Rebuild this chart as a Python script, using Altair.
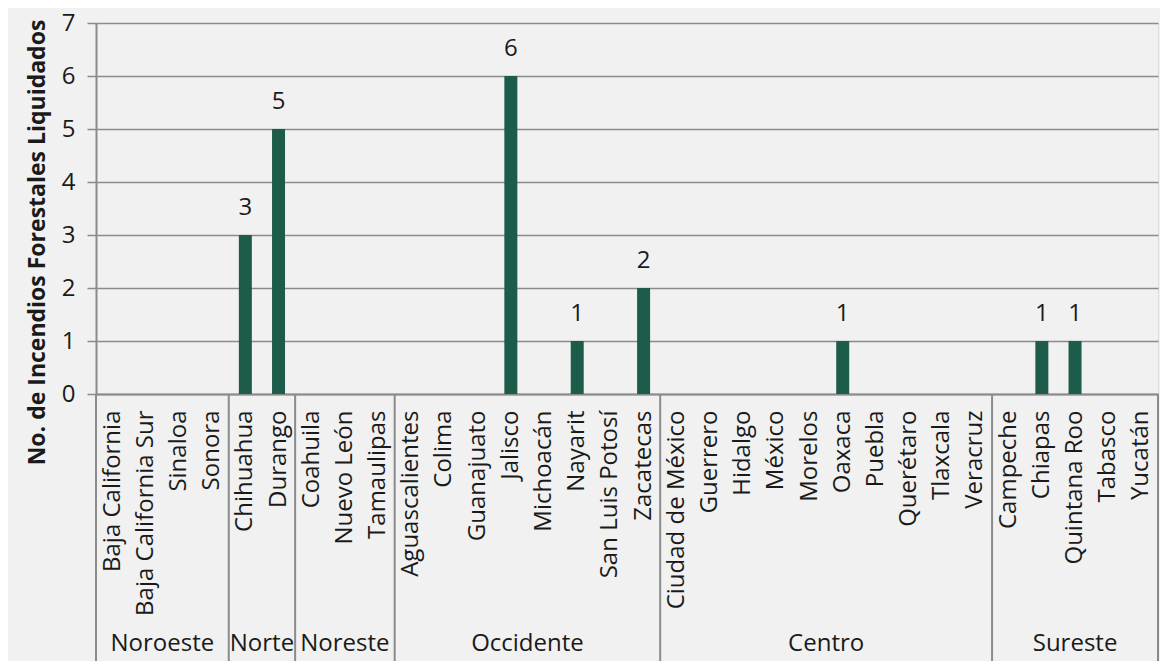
import altair as alt
import pandas as pd

states = [
    "Baja California", "Baja California Sur", "Sinaloa", "Sonora",
    "Chihuahua", "Durango",
    "Coahuila", "Nuevo León", "Tamaulipas",
    "Aguascalientes", "Colima", "Guanajuato", "Jalisco", "Michoacán", "Nayarit", "San Luis Potosí", "Zacatecas",
    "Ciudad de México", "Guerrero", "Hidalgo", "México", "Morelos", "Oaxaca", "Puebla", "Querétaro", "Tlaxcala", "Veracruz",
    "Campeche", "Chiapas", "Quintana Roo", "Tabasco", "Yucatán",
]
values = [
    0, 0, 0, 0,
    3, 5,
    0, 0, 0,
    0, 0, 0, 6, 0, 1, 0, 2,
    0, 0, 0, 0, 0, 1, 0, 0, 0, 0,
    0, 1, 1, 0, 0,
]
regions = ["Noroeste", "Norte", "Noreste", "Occidente", "Centro", "Sureste"]
region_sizes = [4, 2, 3, 8, 10, 5]
y_ticks = [0, 1, 2, 3, 4, 5, 6, 7]

W, H, PT, PB = 1062, 371, 15, 267
GREEN = "#1d5c4b"
GRID = "#8b8b8b"
TXT = "#1a1a1a"
FONT = "Open Sans"
FS = 24

df = pd.DataFrame({"estado": states, "valor": values})

starts, ends, acc = [], [], 0
for n in region_sizes:
    starts.append(acc)
    acc += n
    ends.append(acc)
rdf = pd.DataFrame({"region": regions, "inicio": starts, "fin": ends})
rdf["medio"] = (rdf["inicio"] + rdf["fin"]) / 2
bdf = pd.DataFrame({"pos": [0] + ends})

x_band = alt.Scale(domain=states, paddingInner=0, paddingOuter=0)
x_lin = alt.Scale(domain=[0, len(states)], nice=False, zero=False)

x_axis = alt.Axis(
    labelAngle=270, labelOverlap=False, labelLimit=400,
    labelFontSize=FS, labelPadding=16, labelColor=TXT, labelFont=FONT,
    ticks=False, grid=False, domainColor=GRID, domainWidth=2, title=None,
)
y_axis = alt.Axis(
    values=y_ticks, format="d", grid=True, gridColor=GRID, gridWidth=1.5,
    tickColor=GRID, tickSize=9, tickWidth=1.5, domainColor=GRID, domainWidth=2,
    labelFontSize=FS, labelPadding=12, labelColor=TXT, labelFont=FONT,
    title="No. de Incendios Forestales Liquidados", titleFontSize=23,
    titleFontWeight="bold", titleColor=TXT, titleFont=FONT,
    titleX=-52, titleY=219, titleAngle=270, titleAlign="center", titleBaseline="alphabetic",
)

bars = alt.Chart(df).mark_bar(size=13, color=GREEN).encode(
    x=alt.X("estado:N", scale=x_band, sort=states, axis=x_axis),
    y=alt.Y("valor:Q", scale=alt.Scale(domain=[0, 7], nice=False), axis=y_axis),
)

labels = alt.Chart(df).transform_filter("datum.valor > 0").mark_text(
    dy=-20, baseline="alphabetic", fontSize=FS, color=TXT, font=FONT
).encode(
    x=alt.X("estado:N", scale=x_band, sort=states),
    y=alt.Y("valor:Q"),
    text=alt.Text("valor:Q"),
)

main = alt.layer(bars, labels)

seps = alt.Chart(bdf).mark_rule(color=GRID, strokeWidth=2).encode(
    x=alt.X("pos:Q", scale=x_lin, axis=None),
    y=alt.value(H),
    y2=alt.value(H + PB),
)

group_labels = alt.Chart(rdf).mark_text(
    baseline="alphabetic", fontSize=FS, color=TXT, font=FONT
).encode(
    x=alt.X("medio:Q", scale=x_lin, axis=None),
    y=alt.value(H + 257),
    text="region:N",
)

chart = alt.layer(main, seps, group_labels).resolve_scale(x="independent").properties(
    width=W, height=H,
    padding={"left": 88, "top": PT, "right": 2, "bottom": PB},
    autosize=alt.AutoSizeParams(type="none"),
    background="#f1f1f1",
).configure_view(
    stroke="#9aa9a1", strokeWidth=2
).configure(font=FONT)

chart.save("out.html", embed_options={"renderer": "svg", "actions": False})
